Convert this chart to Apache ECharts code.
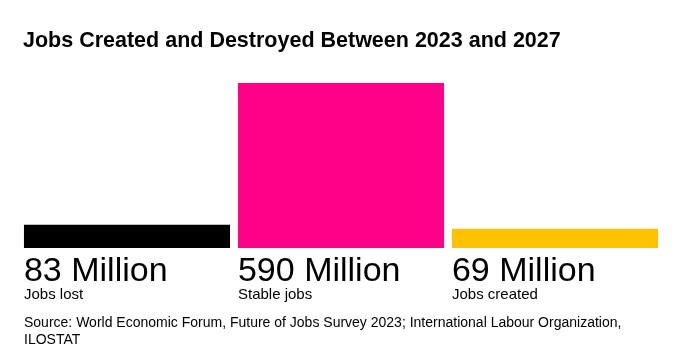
<!DOCTYPE html>
<html>
<head>
<meta charset="utf-8">
<script src="https://cdn.jsdelivr.net/npm/echarts@6/dist/echarts.min.js"></script>
<style>html,body{margin:0;padding:0;background:#fff}#c{width:680px;height:359px}</style>
</head>
<body>
<div id="c"></div>
<script>
const categories = ['Jobs lost', 'Stable jobs', 'Jobs created'];
const values = [83, 590, 69];
const valueLabels = ['83 Million', '590 Million', '69 Million'];
const barColors = ['#000000', '#ff0088', '#ffc200'];
const titleText = 'Jobs Created and Destroyed Between 2023 and 2027';
const sourceText = 'Source: World Economic Forum, Future of Jobs Survey 2023; International Labour Organization,\nILOSTAT';

const chart = echarts.init(document.getElementById('c'), null, {renderer: 'canvas'});
chart.setOption({
  animation: false,
  title: [{
    text: titleText, left: 23, top: 30, padding: 0,
    textStyle: {fontFamily: 'Liberation Sans', fontWeight: 'bold', fontSize: 21.5, color: '#000'}
  }, {
    text: sourceText, left: 24, top: 315, padding: 0,
    textStyle: {fontFamily: 'Liberation Sans', fontWeight: 'normal', fontSize: 14, color: '#000', lineHeight: 17}
  }],
  grid: {left: 20, right: 18, top: 83, bottom: 111},
  xAxis: {type: 'category', data: categories, show: false},
  yAxis: {type: 'value', min: 0, max: 590, show: false},
  series: [{
    type: 'bar',
    barCategoryGap: '3.7%',
    data: values.map((v, i) => ({value: v, itemStyle: {color: barColors[i]}})),
    label: {
      show: true,
      position: [0, '100%'],
      align: 'left',
      verticalAlign: 'top',
      formatter: p => '{big|' + valueLabels[p.dataIndex] + '}\n{small|' + categories[p.dataIndex] + '}',
      rich: {
        big: {fontFamily: 'Liberation Sans', fontSize: 34, color: '#000', lineHeight: 36, padding: [12, 0, 0, 0]},
        small: {fontFamily: 'Liberation Sans', fontSize: 15, color: '#000', lineHeight: 22}
      }
    }
  }]
});
</script>
</body>
</html>
